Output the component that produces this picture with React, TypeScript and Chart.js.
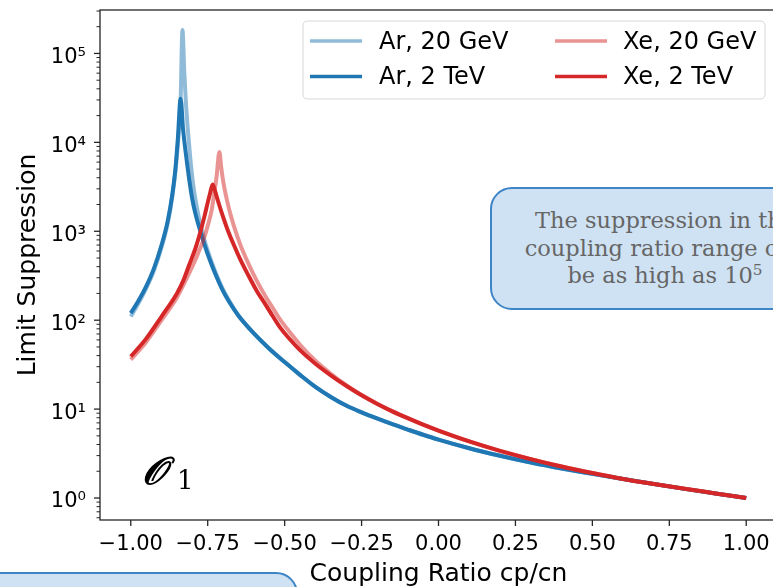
import { useEffect, useRef } from "react";
import { Chart, registerables } from "chart.js";

Chart.register(...registerables);

// ---------- data ----------
const seriesLabels = ["Ar, 20 GeV", "Ar, 2 TeV", "Xe, 20 GeV", "Xe, 2 TeV"];

const arLowX = [-1.0, -0.975, -0.95, -0.925, -0.9, -0.88, -0.865, -0.855, -0.845, -0.838, -0.832, -0.826, -0.82, -0.81, -0.8, -0.79, -0.78, -0.76, -0.74, -0.72, -0.7, -0.68, -0.65, -0.6, -0.55, -0.5, -0.45, -0.4, -0.35, -0.3, -0.25, -0.2, -0.15, -0.1, -0.05, 0.0, 0.1, 0.2, 0.3, 0.4, 0.5, 0.6, 0.7, 0.8, 0.9, 1.0];
const arLowY = [110, 155, 228, 360, 660, 1230, 2450, 4700, 11500, 30000, 183000, 60000, 25000, 9000, 4000, 2300, 1500, 780, 480, 315, 220, 165, 113, 71, 48, 33.8, 24.3, 17.8, 13.7, 10.96, 9.2, 7.85, 6.76, 5.89, 5.15, 4.54, 3.63, 2.99, 2.51, 2.15, 1.87, 1.633, 1.435, 1.268, 1.125, 1.0];

const arHighX = [-1.0, -0.975, -0.95, -0.925, -0.9, -0.88, -0.865, -0.855, -0.847, -0.838, -0.83, -0.82, -0.81, -0.8, -0.79, -0.78, -0.76, -0.74, -0.72, -0.7, -0.68, -0.65, -0.6, -0.55, -0.5, -0.45, -0.4, -0.35, -0.3, -0.25, -0.2, -0.15, -0.1, -0.05, 0.0, 0.1, 0.2, 0.3, 0.4, 0.5, 0.6, 0.7, 0.8, 0.9, 1.0];
const arHighY = [120, 165, 240, 380, 700, 1300, 2600, 5000, 11000, 31000, 14000, 7000, 3800, 2290, 1580, 1180, 700, 445, 300, 212, 160, 112, 71, 47.8, 33.8, 24.3, 17.8, 13.7, 10.96, 9.2, 7.85, 6.76, 5.89, 5.15, 4.54, 3.63, 2.99, 2.51, 2.15, 1.87, 1.633, 1.435, 1.268, 1.125, 1.0];

const xeLowX = [-1.0, -0.95, -0.9, -0.85, -0.83, -0.81, -0.79, -0.775, -0.764, -0.75, -0.737, -0.73, -0.721, -0.712, -0.706, -0.7, -0.69, -0.68, -0.665, -0.645, -0.62, -0.59, -0.56, -0.54, -0.515, -0.483, -0.45, -0.4, -0.35, -0.3, -0.25, -0.2, -0.15, -0.1, -0.05, 0.0, 0.1, 0.2, 0.3, 0.4, 0.5, 0.6, 0.7, 0.8, 0.9, 1.0];
const xeLowY = [36, 57, 100, 180, 245, 340, 480, 640, 800, 1150, 1740, 2500, 4170, 7800, 5200, 3700, 2450, 1750, 1150, 720, 450, 275, 180, 140, 102, 73, 53, 35, 25, 18.6, 14.4, 11.5, 9.44, 7.9, 6.68, 5.73, 4.33, 3.39, 2.74, 2.26, 1.91, 1.64, 1.44, 1.27, 1.127, 1.0];

const xeHighX = [-1.0, -0.95, -0.9, -0.85, -0.83, -0.81, -0.79, -0.775, -0.76, -0.75, -0.742, -0.734, -0.727, -0.72, -0.71, -0.7, -0.69, -0.68, -0.66, -0.645, -0.62, -0.59, -0.56, -0.54, -0.515, -0.483, -0.45, -0.4, -0.35, -0.3, -0.25, -0.2, -0.15, -0.1, -0.05, 0.0, 0.1, 0.2, 0.3, 0.4, 0.5, 0.6, 0.7, 0.8, 0.9, 1.0];
const xeHighY = [39, 62, 110, 200, 275, 420, 640, 950, 1500, 2100, 2700, 3350, 2900, 2400, 1850, 1450, 1150, 930, 640, 490, 330, 212, 146, 113, 83, 61, 46, 32.4, 24, 18.3, 14.3, 11.5, 9.44, 7.9, 6.68, 5.73, 4.33, 3.39, 2.74, 2.26, 1.91, 1.64, 1.44, 1.27, 1.127, 1.0];

const xTickValues = [-1, -0.75, -0.5, -0.25, 0, 0.25, 0.5, 0.75, 1];
const xTickLabels = ["\u22121.00", "\u22120.75", "\u22120.50", "\u22120.25", "0.00", "0.25", "0.50", "0.75", "1.00"];
const yMajorValues = [1, 10, 100, 1000, 10000, 100000];
const yTickLabels = ["10\u2070", "10\u00b9", "10\u00b2", "10\u00b3", "10\u2074", "10\u2075"];

const X_MIN = -1.1;
const X_MAX = 1.1;
const Y_MIN = 0.566;
const Y_MAX = 3.08e5;

const CANVAS_W = 790;
const CANVAS_H = 587;
const FONT = '"DejaVu Sans", sans-serif';

function minorTickValues(): number[] {
  const out: number[] = [];
  for (let n = -1; n <= 5; n++) {
    for (let k = 1; k <= 9; k++) {
      const v = Number((k * Math.pow(10, n)).toPrecision(6));
      if (v >= Y_MIN && v <= Y_MAX) out.push(v);
    }
  }
  return out;
}

const decorPlugin = {
  id: "decor",
  afterDatasetsDraw(chart: any) {
    const { ctx, chartArea: a, scales } = chart;
    const xs = scales.x;
    const ys = scales.y;
    ctx.save();
    // spines
    ctx.strokeStyle = "#262626";
    ctx.lineWidth = 1.3;
    ctx.strokeRect(a.left, a.top, a.right - a.left, a.bottom - a.top);
    // y ticks (major + minor)
    const majors = new Set(yMajorValues);
    for (const v of minorTickValues()) {
      const p = ys.getPixelForValue(v);
      if (p < a.top - 0.5 || p > a.bottom + 0.5) continue;
      const isMajor = majors.has(v);
      ctx.lineWidth = isMajor ? 1.3 : 1.0;
      ctx.beginPath();
      ctx.moveTo(a.left - (isMajor ? 6 : 3.5), p);
      ctx.lineTo(a.left, p);
      ctx.stroke();
    }
    // x ticks
    ctx.lineWidth = 1.3;
    for (const v of xTickValues) {
      const p = xs.getPixelForValue(v);
      ctx.beginPath();
      ctx.moveTo(p, a.bottom);
      ctx.lineTo(p, a.bottom + 6);
      ctx.stroke();
    }
    // operator label
    ctx.fillStyle = "#000";
    ctx.strokeStyle = "#000";
    ctx.textBaseline = "alphabetic";
    ctx.textAlign = "left";
    ctx.font = 'italic 38px "DejaVu Serif", serif';
    ctx.lineWidth = 1.4;
    ctx.fillText("\ud835\udcaa", a.left + 42, 484);
    ctx.strokeText("\ud835\udcaa", a.left + 42, 484);
    ctx.font = '26px "DejaVu Serif", serif';
    ctx.fillText("1", a.left + 77, 489);

    // legend
    const lx = 303, ly = 21, lw = 462, lh = 78, r = 5;
    ctx.beginPath();
    ctx.moveTo(lx + r, ly);
    ctx.lineTo(lx + lw - r, ly);
    ctx.quadraticCurveTo(lx + lw, ly, lx + lw, ly + r);
    ctx.lineTo(lx + lw, ly + lh - r);
    ctx.quadraticCurveTo(lx + lw, ly + lh, lx + lw - r, ly + lh);
    ctx.lineTo(lx + r, ly + lh);
    ctx.quadraticCurveTo(lx, ly + lh, lx, ly + lh - r);
    ctx.lineTo(lx, ly + r);
    ctx.quadraticCurveTo(lx, ly, lx + r, ly);
    ctx.closePath();
    ctx.fillStyle = "rgba(255,255,255,0.85)";
    ctx.fill();
    ctx.strokeStyle = "#d6d6d6";
    ctx.lineWidth = 1;
    ctx.stroke();

    const colLine = [310, 555];
    const colText = [379, 623];
    const rowY = [41, 76.5];
    ctx.font = `24px ${FONT}`;
    ctx.textBaseline = "middle";
    chart.data.datasets.forEach((ds: any, i: number) => {
      const col = i < 2 ? 0 : 1;
      const row = i % 2;
      ctx.strokeStyle = ds.borderColor;
      ctx.lineWidth = 3.5;
      ctx.beginPath();
      ctx.moveTo(colLine[col], rowY[row]);
      ctx.lineTo(colLine[col] + 52, rowY[row]);
      ctx.stroke();
      ctx.fillStyle = "#000";
      ctx.fillText(ds.label, colText[col], rowY[row] + 1.5);
    });
    ctx.restore();
  },
};

function makeSeries(label: string, xs: number[], ys: number[], color: string, order: number) {
  return {
    label,
    data: xs.map((x, i) => ({ x, y: ys[i] })),
    borderColor: color,
    backgroundColor: color,
    borderWidth: 4,
    pointRadius: 0,
    pointHoverRadius: 0,
    fill: false,
    cubicInterpolationMode: "monotone" as const,
    borderJoinStyle: "round" as const,
    borderCapStyle: "butt" as const,
    order,
  };
}

export default function App() {
  const ref = useRef<HTMLCanvasElement | null>(null);

  useEffect(() => {
    if (!ref.current) return;
    const chart = new Chart(ref.current, {
      type: "line",
      data: {
        datasets: [
          makeSeries(seriesLabels[0], arLowX, arLowY, "rgba(31,119,180,0.5)", 4),
          makeSeries(seriesLabels[1], arHighX, arHighY, "#1f77b4", 3),
          makeSeries(seriesLabels[2], xeLowX, xeLowY, "rgba(214,39,40,0.5)", 2),
          makeSeries(seriesLabels[3], xeHighX, xeHighY, "#d62728", 1),
        ],
      },
      options: {
        animation: false,
        responsive: false,
        devicePixelRatio: 1,
        layout: { padding: { left: 0, top: 10, right: CANVAS_W - 777, bottom: 0 } },
        plugins: { legend: { display: false }, tooltip: { enabled: false } },
        scales: {
          x: {
            type: "linear",
            min: X_MIN,
            max: X_MAX,
            afterBuildTicks: (s: any) => {
              s.ticks = xTickValues.map((v) => ({ value: v }));
            },
            afterFit: (s: any) => {
              s.height = 67;
              s.paddingLeft = 0;
              s.paddingRight = 0;
            },
            ticks: {
              callback: (_v: any, i: number) => xTickLabels[i],
              autoSkip: false,
              maxRotation: 0,
              minRotation: 0,
              padding: 12,
              color: "#000",
              font: { family: FONT, size: 21 },
            },
            grid: { display: false, drawTicks: false },
            border: { display: false },
            title: {
              display: true,
              text: "Coupling Ratio cp/cn",
              color: "#000",
              font: { family: FONT, size: 25, lineHeight: 1 },
              padding: { top: 0, bottom: 0 },
            },
          },
          y: {
            type: "logarithmic",
            min: Y_MIN,
            max: Y_MAX,
            afterBuildTicks: (s: any) => {
              s.ticks = yMajorValues.map((v) => ({ value: v, major: true }));
            },
            afterFit: (s: any) => {
              s.width = 100;
              s.paddingTop = 0;
              s.paddingBottom = 0;
            },
            ticks: {
              callback: (_v: any, i: number) => yTickLabels[i],
              autoSkip: false,
              padding: 14,
              labelOffset: 4,
              color: "#000",
              font: { family: FONT, size: 21 },
            },
            grid: { display: false, drawTicks: false },
            border: { display: false },
            title: {
              display: true,
              text: "Limit Suppression",
              color: "#000",
              font: { family: FONT, size: 25, lineHeight: 1 },
              padding: { top: 16, bottom: 0 },
            },
          },
        },
      },
      plugins: [decorPlugin],
    } as any);
    return () => chart.destroy();
  }, []);

  const boxStyle: any = {
    position: "absolute",
    boxSizing: "border-box",
    background: "#cfe2f3",
    border: "2px solid #3d85c6",
    borderRadius: 22,
  };

  return (
    <div
      style={{
        position: "absolute",
        left: 0,
        top: 0,
        width: 773,
        height: 587,
        overflow: "hidden",
        background: "#fff",
      }}
    >
      <canvas ref={ref} width={CANVAS_W} height={CANVAS_H} style={{ width: CANVAS_W, height: CANVAS_H, display: "block" }} />
      <div
        style={{
          ...boxStyle,
          left: 490,
          top: 187,
          width: 350,
          height: 123,
          display: "flex",
          alignItems: "center",
          justifyContent: "center",
          textAlign: "center",
          fontFamily: '"DejaVu Serif", serif',
          fontSize: 22.5,
          lineHeight: "27.5px",
          color: "#666",
        }}
      >
        <div>
          The suppression in the
          <br />
          coupling ratio range can
          <br />
          be as high as 10
          <sup style={{ fontSize: "0.68em", lineHeight: 0, verticalAlign: "0.55em" }}>5</sup>
        </div>
      </div>
      <div style={{ ...boxStyle, left: -30, top: 572, width: 328, height: 60 }} />
    </div>
  );
}
